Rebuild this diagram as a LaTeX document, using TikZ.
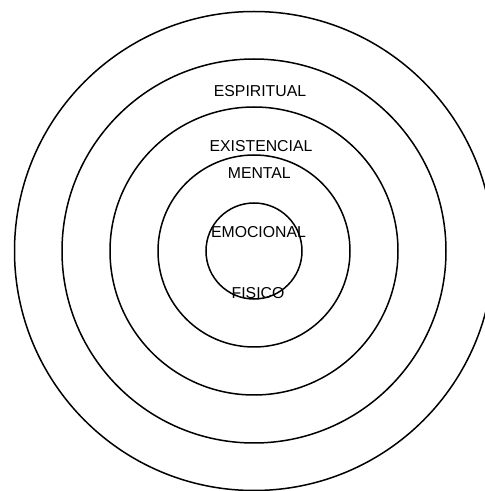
\documentclass[tikz,border=0pt]{standalone}
\usepackage{fontspec}
\setmainfont{Liberation Sans}
\tikzset{
  ring/.style={draw=black, line width=1.5pt},
  lbl/.style={anchor=base, inner sep=0pt, font=\fontsize{15.8pt}{18pt}\selectfont}
}
\begin{document}
\begin{tikzpicture}[x=1pt,y=1pt]
\useasboundingbox (0,0) rectangle (485,491);
\clip (0,0) rectangle (485,491);
\coordinate (c) at (254,240);
\draw[ring] (c) circle (48);
\draw[ring] (c) circle (96);
\draw[ring] (c) circle (144);
\draw[ring] (c) circle (192);
\draw[ring] (c) circle (239.5);
\node[lbl] (esp) at (260,394.7) {ESPIRITUAL};
\node[lbl] (exi) at (261,339.7) {EXISTENCIAL};
\node[lbl] (men) at (259.3,312.7) {MENTAL};
\node[lbl] (emo) at (258.5,253.1) {EMOCIONAL};
\node[lbl] (fis) at (258,192.7) {FISICO};
\end{tikzpicture}
\end{document}
